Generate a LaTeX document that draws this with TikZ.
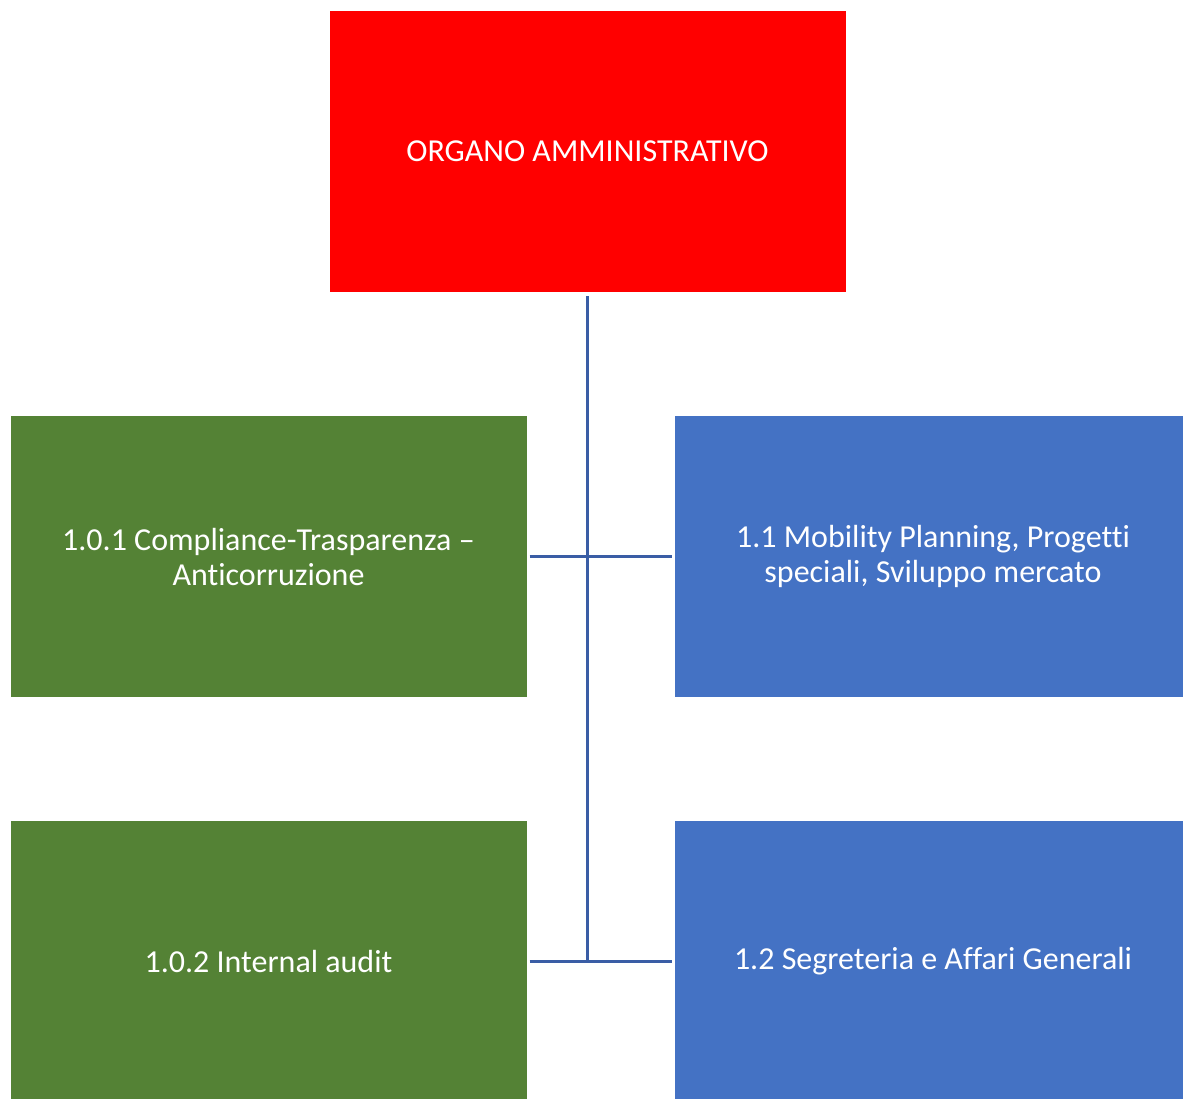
\documentclass[tikz,border=0pt]{standalone}
\usepackage{fontspec}
\setmainfont[Ligatures={NoCommon,TeX}]{Carlito}
\usepackage{tikz}
\usepackage{xcolor}
\usetikzlibrary{positioning}

\definecolor{boxred}{HTML}{FF0000}
\definecolor{boxgreen}{HTML}{548235}
\definecolor{boxblue}{HTML}{4472C4}
\definecolor{linkblue}{HTML}{3A5DA5}

\begin{document}
\begin{tikzpicture}[x=1pt,y=-1pt,
    unit/.style={minimum width=516pt, minimum height=281pt, inner sep=0pt,
        text=white, align=center, font=\fontsize{32}{35}\selectfont},
    link/.style={draw=linkblue, line width=3pt}]
    \useasboundingbox (0,0) rectangle (1183,1098);

    % Top box
    \node[unit, fill=boxred] (org) at (587.5,151.5) {ORGANO AMMINISTRATIVO};

    % Staff units on the left
    \node[unit, fill=boxgreen] (comp) at (268.5,556.5) {1.0.1 Compliance-Trasparenza --\\Anticorruzione};
    \node[unit, fill=boxgreen] (aud) at (268.5,961.5) {1.0.2 Internal audit};

    % Line units on the right
    \node[unit, fill=boxblue] (mob) at (933,556.5) {1.1 Mobility Planning, Progetti\\speciali, Sviluppo mercato};
    \node[unit, fill=boxblue] (seg) at (933,961.5) {1.2 Segreteria e Affari Generali};

    % Connectors
    \draw[link, shorten <=4pt] (org.south) -- (org.south |- aud.east);
    \draw[link, shorten <=3pt, shorten >=3pt] (comp.east) -- (mob.west);
    \draw[link, shorten <=3pt, shorten >=3pt] (aud.east) -- (seg.west);
\end{tikzpicture}
\end{document}
